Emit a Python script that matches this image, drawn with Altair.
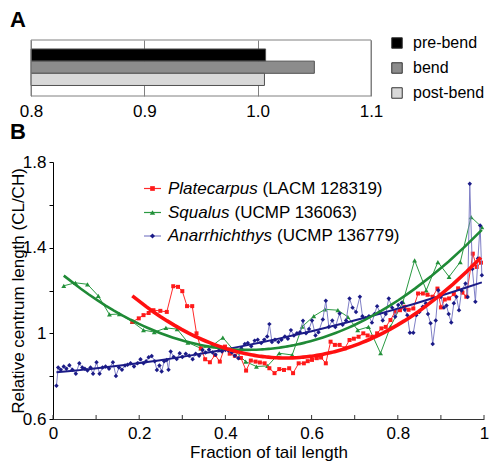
import altair as alt
import pandas as pd

FONT = "Liberation Sans"

# ---------------- Panel A data ----------------
bend_categories = ["pre-bend", "bend", "post-bend"]
bend_values = [1.007, 1.050, 1.006]
bend_colors = ["#000000", "#8c8c8c", "#d8d8d8"]
bend_ticks = [0.8, 0.9, 1.0, 1.1]

# ---------------- Panel B data ----------------
series_names = ["Platecarpus", "Squalus", "Anarrhichthys"]
specimens = ["(LACM 128319)", "(UCMP 136063)", "(UCMP 136779)"]
marker_colors = ["#ff1a1a", "#23903a", "#1b1b87"]
line_colors = ["#ff2a2a", "#2a9a42", "#7f7fc6"]
fit_colors = ["#ff1010", "#1f8a36", "#1b1b87"]
marker_shapes = ["square", "triangle-up", "diamond"]
marker_sizes = [16, 24, 20]
fit_widths = [3.6, 2.6, 2.0]

platecarpus = [
    (0.184, 1.054), (0.199, 1.07), (0.210, 1.085), (0.222, 1.095), (0.233, 1.108),
    (0.249, 1.105), (0.264, 1.10), (0.279, 1.22), (0.290, 1.217), (0.300, 1.197),
    (0.311, 1.127), (0.323, 1.127), (0.333, 1.0), (0.343, 0.93), (0.353, 0.879),
    (0.364, 0.865), (0.376, 0.899), (0.387, 0.868), (0.399, 0.938), (0.410, 0.905),
    (0.422, 0.895), (0.436, 0.885), (0.448, 0.826), (0.459, 0.873), (0.470, 0.868),
    (0.480, 0.864), (0.491, 0.86), (0.502, 0.837), (0.514, 0.814), (0.525, 0.833),
    (0.536, 0.829), (0.548, 0.837), (0.557, 0.814), (0.570, 0.86), (0.582, 0.86),
    (0.591, 0.87), (0.601, 0.876), (0.612, 0.884), (0.622, 0.887), (0.633, 0.86),
    (0.644, 0.961), (0.654, 0.946), (0.665, 0.946), (0.677, 0.93), (0.688, 0.969),
    (0.698, 0.975), (0.709, 0.984), (0.720, 1.0), (0.730, 0.99), (0.741, 0.984),
    (0.752, 1.0), (0.762, 1.023), (0.772, 1.03), (0.783, 1.062), (0.794, 1.101),
    (0.805, 1.108), (0.815, 1.124), (0.825, 1.11), (0.836, 1.116), (0.847, 1.186),
    (0.858, 1.186), (0.869, 1.18), (0.881, 1.171), (0.892, 1.209), (0.900, 1.121),
    (0.909, 1.158), (0.919, 1.163), (0.930, 1.183), (0.940, 1.21), (0.950, 1.19),
    (0.959, 1.171), (0.974, 1.372), (0.983, 1.31), (0.993, 1.33),
]

squalus = [
    (0.025, 1.222), (0.052, 1.236), (0.080, 1.229), (0.105, 1.175), (0.131, 1.088),
    (0.154, 1.09), (0.184, 1.054), (0.210, 1.015), (0.235, 1.006), (0.262, 1.025),
    (0.288, 1.02), (0.313, 0.957), (0.343, 0.93), (0.368, 0.94), (0.394, 0.98),
    (0.419, 0.922), (0.447, 0.868), (0.472, 0.845), (0.498, 0.848), (0.525, 0.907),
    (0.555, 0.899), (0.578, 1.031), (0.605, 1.08), (0.631, 1.112), (0.661, 1.108),
    (0.684, 1.077), (0.707, 1.015), (0.732, 1.03), (0.760, 0.907), (0.783, 1.031),
    (0.812, 1.147), (0.839, 1.341), (0.866, 1.201), (0.893, 1.333), (0.919, 1.264),
    (0.945, 1.333), (0.970, 1.543), (0.995, 1.496),
]

anarrhichthys = [
    (0.008, 0.755), (0.012, 0.84), (0.018, 0.83), (0.025, 0.845), (0.031, 0.835),
    (0.038, 0.851), (0.045, 0.83), (0.053, 0.811), (0.061, 0.86), (0.068, 0.84),
    (0.074, 0.835), (0.080, 0.826), (0.087, 0.84), (0.093, 0.811), (0.101, 0.865),
    (0.108, 0.811), (0.115, 0.84), (0.122, 0.845), (0.130, 0.835), (0.139, 0.865),
    (0.146, 0.801), (0.153, 0.84), (0.160, 0.83), (0.167, 0.85), (0.173, 0.853),
    (0.180, 0.86), (0.188, 0.845), (0.196, 0.86), (0.203, 0.879), (0.210, 0.86),
    (0.216, 0.87), (0.222, 0.888), (0.229, 0.894), (0.236, 0.87), (0.241, 0.829),
    (0.247, 0.85), (0.252, 0.822), (0.258, 0.87), (0.264, 0.875), (0.268, 0.83),
    (0.273, 0.915), (0.280, 0.89), (0.287, 0.88), (0.294, 0.907), (0.300, 0.89),
    (0.308, 0.905), (0.316, 0.895), (0.324, 0.879), (0.331, 0.905), (0.339, 0.895),
    (0.347, 0.922), (0.354, 0.91), (0.362, 0.925), (0.370, 0.91), (0.377, 0.90),
    (0.385, 0.92), (0.392, 0.915), (0.400, 0.922), (0.407, 0.92), (0.415, 0.91),
    (0.422, 0.895), (0.430, 0.884), (0.437, 0.93), (0.445, 0.95), (0.452, 0.955),
    (0.460, 0.94), (0.468, 0.966), (0.475, 0.97), (0.483, 0.955), (0.490, 0.97),
    (0.497, 0.985), (0.502, 1.043), (0.508, 0.96), (0.515, 0.97), (0.523, 0.96),
    (0.530, 0.97), (0.538, 0.985), (0.545, 0.975), (0.552, 1.015), (0.559, 0.99),
    (0.566, 1.0), (0.573, 1.005), (0.580, 1.059), (0.587, 1.0), (0.594, 1.02),
    (0.601, 1.06), (0.609, 0.99), (0.616, 1.005), (0.626, 1.065), (0.633, 1.152),
    (0.640, 1.03), (0.648, 1.06), (0.655, 1.03), (0.665, 1.093), (0.672, 1.04),
    (0.680, 1.06), (0.688, 1.163), (0.695, 1.12), (0.703, 1.10), (0.712, 1.171),
    (0.718, 1.08), (0.725, 1.07), (0.733, 1.08), (0.740, 1.05), (0.746, 1.09),
    (0.752, 1.127), (0.758, 1.10), (0.765, 1.06), (0.772, 1.09), (0.779, 1.163),
    (0.787, 1.12), (0.794, 1.077), (0.801, 1.132), (0.809, 1.143), (0.816, 1.11),
    (0.822, 1.085), (0.828, 1.003), (0.836, 1.003), (0.843, 1.085), (0.850, 1.10),
    (0.858, 1.124), (0.865, 1.14), (0.870, 1.09), (0.876, 1.047), (0.881, 0.95),
    (0.888, 1.06), (0.894, 1.201), (0.900, 1.17), (0.907, 1.12), (0.913, 1.13),
    (0.918, 1.09), (0.924, 1.051), (0.930, 1.14), (0.936, 1.171), (0.942, 1.108),
    (0.948, 1.20), (0.957, 1.233), (0.962, 1.17), (0.967, 1.698), (0.973, 1.30),
    (0.980, 1.147), (0.986, 1.35), (0.991, 1.504), (0.995, 1.271),
]

series_points = [platecarpus, squalus, anarrhichthys]
x_ticks = [0.0, 0.1, 0.2, 0.3, 0.4, 0.5, 0.6, 0.7, 0.8, 0.9, 1.0]
y_ticks = [0.6, 0.8, 1.0, 1.2, 1.4, 1.6, 1.8]

# ---------------- layout constants (pixels) ----------------
FS = 17
LEFT = -43                     # panel letters sit this far left of panel B's y axis
A_W, A_H = 318, 56
A_RANGE = [-22, 318]           # panel A starts 22px left of panel B's y axis
B_W, B_H = 431, 257
legend_rows = [26.5, 50.5, 74.0]
legend_line = (91, 108)
legend_marker_x = 99.5
legend_name_x = 115
legend_spec_x = [209.5, 181.5, 224]

one = pd.DataFrame({"k": [0]})

# ---------------- Panel A ----------------
df_a = pd.DataFrame({"category": bend_categories, "value": bend_values})

x_a = alt.X("value:Q",
            scale=alt.Scale(domain=[0.8, 1.1], range=A_RANGE, nice=False, zero=False),
            axis=alt.Axis(values=bend_ticks, format=".1f", grid=True,
                          gridColor="#808080", gridOpacity=1, ticks=False, tickSize=0,
                          domain=False, labelFontSize=FS, labelPadding=7,
                          labelColor="#000", labelFlush=False, title=None))

bars = alt.Chart(df_a).mark_bar(stroke="#505050", strokeWidth=1).encode(
    y=alt.Y("category:N", sort=bend_categories,
            scale=alt.Scale(paddingInner=0, paddingOuter=0.8, align=0.46),
            axis=None),
    x=x_a,
    x2=alt.datum(0.8),
    color=alt.Color("category:N", sort=bend_categories,
                    scale=alt.Scale(domain=bend_categories, range=bend_colors),
                    legend=alt.Legend(orient="none", legendX=336, legendY=-5,
                                      title=None, symbolType="square", symbolSize=110,
                                      symbolStrokeColor="#333", symbolStrokeWidth=1,
                                      symbolOpacity=1, labelFontSize=16, labelColor="#000",
                                      rowPadding=9, labelOffset=8)),
)

frame_a = alt.Chart(one).mark_rect(fill="transparent", stroke="#808080", strokeWidth=1).encode(
    x=alt.datum(0.8), x2=alt.datum(1.1), y=alt.value(0), y2=alt.value(A_H))

letter_a = alt.Chart(one).mark_text(
    text="A", fontSize=22, fontWeight="bold", align="left", baseline="top", color="#000"
).encode(x=alt.value(LEFT), y=alt.value(-30))

chart_a = alt.layer(bars, frame_a, letter_a).properties(width=A_W, height=A_H)

# ---------------- Panel B ----------------
x_label_expr = ("datum.value == 0 ? '0' : datum.value == 1 ? '1' : "
                "indexof([0.2, 0.4, 0.6, 0.8], datum.value) >= 0 ? format(datum.value, '.1f') : ''")
y_label_expr = ("datum.value == 1 ? '1' : "
                "indexof([0.6, 1.4, 1.8], datum.value) >= 0 ? format(datum.value, '.1f') : ''")

x_enc = alt.X("x:Q", title="Fraction of tail length",
              scale=alt.Scale(domain=[0, 1], nice=False, zero=False),
              axis=alt.Axis(values=x_ticks, labelExpr=x_label_expr, ticks=False, tickSize=0,
                            grid=False, domainColor="#333", labelFontSize=FS,
                            labelPadding=6, labelColor="#000", labelFlush=False,
                            title="Fraction of tail length", titleFontSize=FS,
                            titleFontWeight="normal", titleColor="#000", titlePadding=3))
y_enc = alt.Y("y:Q", title="Relative centrum length (CL/CH)",
              scale=alt.Scale(domain=[0.6, 1.8], nice=False, zero=False),
              axis=alt.Axis(values=y_ticks, labelExpr=y_label_expr, tickSize=4,
                            tickColor="#000", domainColor="#000", grid=False,
                            labelFontSize=FS, labelPadding=3, labelColor="#000",
                            labelFlush=False,
                            title="Relative centrum length (CL/CH)", titleFontSize=FS,
                            titleFontWeight="normal", titleColor="#000", titleAngle=270,
                            titleX=-34.5, titleY=B_H / 2, titleAlign="center",
                            titleBaseline="middle"))


def series_df(points):
    return pd.DataFrame({"x": [p[0] for p in points], "y": [p[1] for p in points]})


layers = []
for idx in [1, 0, 2]:
    base = alt.Chart(series_df(series_points[idx]))
    layers.append(base.mark_line(color=line_colors[idx], strokeWidth=1).encode(x=x_enc, y=y_enc))
    layers.append(base.mark_point(shape=marker_shapes[idx], filled=True, opacity=1,
                                  color=marker_colors[idx], size=marker_sizes[idx],
                                  strokeWidth=0).encode(x=x_enc, y=y_enc))

for idx in [2, 1, 0]:
    layers.append(
        alt.Chart(series_df(series_points[idx]))
        .transform_regression("x", "y", method="poly", order=2)
        .mark_line(color=fit_colors[idx], strokeWidth=fit_widths[idx])
        .encode(x=x_enc, y=y_enc)
    )

# inward x ticks
layers.append(
    alt.Chart(pd.DataFrame({"x": x_ticks})).mark_rule(color="#333", strokeWidth=1)
    .encode(x=x_enc, y=alt.value(B_H - 4), y2=alt.value(B_H))
)

# custom legend (italic genus + specimen)
for i in range(3):
    ry = legend_rows[i]
    layers.append(alt.Chart(one).mark_rule(color=line_colors[i], strokeWidth=1.2).encode(
        x=alt.value(legend_line[0]), x2=alt.value(legend_line[1]), y=alt.value(ry)))
    layers.append(alt.Chart(one).mark_point(shape=marker_shapes[i], filled=True, opacity=1,
                                            color=marker_colors[i], size=marker_sizes[i] + 6,
                                            strokeWidth=0).encode(
        x=alt.value(legend_marker_x), y=alt.value(ry)))
    layers.append(alt.Chart(one).mark_text(text=series_names[i], fontStyle="italic",
                                           fontSize=FS, align="left", baseline="middle",
                                           color="#000").encode(
        x=alt.value(legend_name_x), y=alt.value(ry)))
    layers.append(alt.Chart(one).mark_text(text=specimens[i], fontSize=FS, align="left",
                                           baseline="middle", color="#000").encode(
        x=alt.value(legend_spec_x[i]), y=alt.value(ry)))

layers.append(alt.Chart(one).mark_text(
    text="B", fontSize=22, fontWeight="bold", align="left", baseline="top", color="#000"
).encode(x=alt.value(LEFT), y=alt.value(-40)))

chart_b = alt.layer(*layers).properties(width=B_W, height=B_H)

chart = (
    alt.vconcat(chart_a, chart_b, spacing=0)
    .properties(padding=0)
    .configure(font=FONT)
    .configure_view(stroke="transparent")
)

chart.save("out.html", embed_options={"renderer": "svg", "actions": False})
